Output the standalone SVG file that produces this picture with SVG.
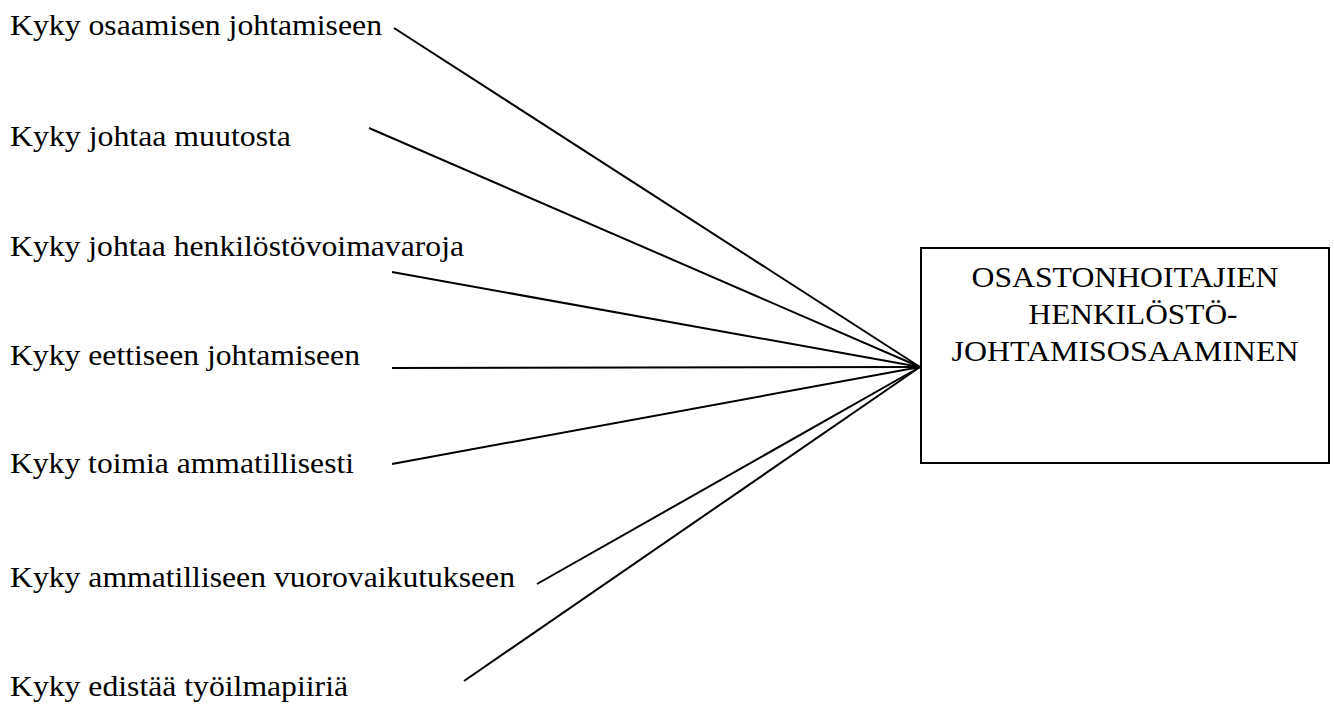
<svg xmlns="http://www.w3.org/2000/svg" width="1334" height="704" viewBox="0 0 1334 704">
<style>
text{font-family:"Liberation Serif","Times New Roman",serif;font-size:30px;fill:#000}
.c line{stroke:#000;stroke-width:2;fill:none}
.box{fill:#fff;stroke:#000;stroke-width:2}
</style>
<rect width="1334" height="704" fill="#fff"/>
<g class="c" id="connectors">
<line x1="394" y1="28" x2="920" y2="367"/>
<line x1="369" y1="128" x2="920" y2="367"/>
<line x1="392" y1="272" x2="920" y2="367"/>
<line x1="392" y1="368" x2="920" y2="367"/>
<line x1="392" y1="464" x2="920" y2="367"/>
<line x1="537" y1="584" x2="920" y2="367"/>
<line x1="464" y1="681" x2="920" y2="367"/>
</g>
<g id="n1"><text x="10" y="35" textLength="372" lengthAdjust="spacingAndGlyphs">Kyky osaamisen johtamiseen</text></g>
<g id="n2"><text x="10" y="146" textLength="281" lengthAdjust="spacingAndGlyphs">Kyky johtaa muutosta</text></g>
<g id="n3"><text x="10" y="256" textLength="454" lengthAdjust="spacingAndGlyphs">Kyky johtaa henkilöstövoimavaroja</text></g>
<g id="n4"><text x="10" y="365" textLength="350" lengthAdjust="spacingAndGlyphs">Kyky eettiseen johtamiseen</text></g>
<g id="n5"><text x="10" y="473" textLength="344" lengthAdjust="spacingAndGlyphs">Kyky toimia ammatillisesti</text></g>
<g id="n6"><text x="10" y="587" textLength="505" lengthAdjust="spacingAndGlyphs">Kyky ammatilliseen vuorovaikutukseen</text></g>
<g id="n7"><text x="10" y="696" textLength="338" lengthAdjust="spacingAndGlyphs">Kyky edistää työilmapiiriä</text></g>
<g id="target">
<rect class="box" x="921" y="248" width="408" height="215"/>
<text x="1125" y="287" text-anchor="middle" textLength="307" lengthAdjust="spacingAndGlyphs">OSASTONHOITAJIEN</text>
<text x="1133" y="324" text-anchor="middle" textLength="209" lengthAdjust="spacingAndGlyphs">HENKILÖSTÖ-</text>
<text x="1125" y="361" text-anchor="middle" textLength="347" lengthAdjust="spacingAndGlyphs">JOHTAMISOSAAMINEN</text>
</g>
</svg>
